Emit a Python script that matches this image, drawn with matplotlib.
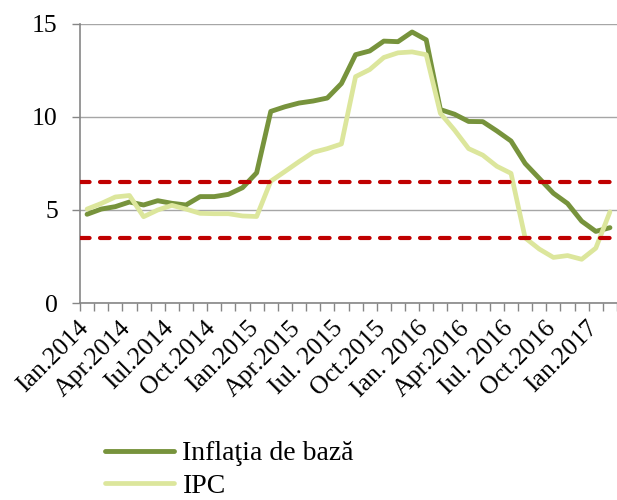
import matplotlib
matplotlib.use("Agg")
import matplotlib.pyplot as plt
import matplotlib.transforms as mtransforms
import numpy as np

plt.rcParams['font.family'] = ['Liberation Serif', 'DejaVu Serif']

# Monthly data, Jan 2014 - Feb 2017
months = ['2014-01', '2014-02', '2014-03', '2014-04', '2014-05', '2014-06', '2014-07', '2014-08',
          '2014-09', '2014-10', '2014-11', '2014-12', '2015-01', '2015-02', '2015-03', '2015-04',
          '2015-05', '2015-06', '2015-07', '2015-08', '2015-09', '2015-10', '2015-11', '2015-12',
          '2016-01', '2016-02', '2016-03', '2016-04', '2016-05', '2016-06', '2016-07', '2016-08',
          '2016-09', '2016-10', '2016-11', '2016-12', '2017-01', '2017-02']

inflatia_de_baza = [4.77, 5.05, 5.18, 5.43, 5.27, 5.5, 5.36, 5.27, 5.72, 5.72, 5.84, 6.2, 7.0,
                    10.3, 10.55, 10.75, 10.86, 11.02, 11.8, 13.35, 13.55, 14.08, 14.05, 14.57,
                    14.15, 10.4, 10.15, 9.76, 9.75, 9.25, 8.71, 7.5, 6.7, 5.9, 5.35, 4.4, 3.85, 4.05]

ipc = [5.05, 5.35, 5.7, 5.78, 4.64, 5.0, 5.25, 5.05, 4.82, 4.8, 4.8, 4.68, 4.65, 6.55, 7.07,
       7.6, 8.1, 8.3, 8.55, 12.17, 12.55, 13.2, 13.45, 13.5, 13.35, 10.2, 9.3, 8.3, 7.95, 7.35,
       6.97, 3.5, 2.9, 2.45, 2.55, 2.35, 2.95, 4.9]

target_upper = 6.5
target_lower = 3.5

tick_labels = ['Ian.2014', 'Apr.2014', 'Iul.2014', 'Oct.2014', 'Ian.2015', 'Apr.2015',
               'Iul. 2015', 'Oct.2015', 'Ian. 2016', 'Apr.2016', 'Iul. 2016', 'Oct.2016', 'Ian.2017']

series_names = ['Inflaţia de bază', 'IPC']

W, H = 617, 500
fig = plt.figure(figsize=(W / 100, H / 100), dpi=100)
ax = fig.add_axes([80 / W, 197 / H, (W - 80) / W, 279 / H])

x = np.arange(len(months))
green = '#77933C'
light = '#DCE69C'
red = '#C00000'

ax.plot(x, inflatia_de_baza, color=green, lw=3.5, solid_joinstyle='round',
        solid_capstyle='round', label=series_names[0], zorder=3)
ax.plot(x, ipc, color=light, lw=3.4, solid_joinstyle='round',
        solid_capstyle='round', label=series_names[1], zorder=3)

for lvl in (target_upper, target_lower):
    ax.axhline(lvl, color=red, lw=3.0, dashes=(2.3, 2.5), dash_capstyle='round', zorder=4)

cat_w = 537 / 14.37
ax.set_xlim(-0.5, -0.5 + cat_w)
ax.set_ylim(0, 15)
ax.set_yticks([0, 5, 10, 15])
ax.yaxis.grid(True, color='#A6A6A6', lw=1.0)
ax.set_axisbelow(True)

ax.set_xticks(np.arange(0, len(months), 3))
ax.set_xticklabels(tick_labels, rotation=45, ha='right', va='top')
ax.set_xticks(np.arange(-0.5, len(months), 1), minor=True)
ax.tick_params(axis='x', which='major', length=0, pad=10, labelsize=18.5)
ax.tick_params(axis='x', which='minor', length=6, color='#868686', width=1)
ax.tick_params(axis='y', length=6, color='#868686', width=1, pad=10, labelsize=18.5)

shift = mtransforms.ScaledTranslation(6 / 100, 0, fig.dpi_scale_trans)
for lbl in ax.get_xticklabels():
    lbl.set_transform(lbl.get_transform() + shift)

for s in ['top', 'right']:
    ax.spines[s].set_visible(False)
for s in ['left', 'bottom']:
    ax.spines[s].set_color('#868686')
    ax.spines[s].set_linewidth(1.2)

handles, labels = ax.get_legend_handles_labels()
fig.legend(handles, labels, loc='upper left', bbox_to_anchor=(105 / W, 1 - 441 / H),
           frameon=False, fontsize=20, handlelength=2.5, handletextpad=0.29,
           labelspacing=0.25, borderpad=0, borderaxespad=0)

fig.savefig('out.png', dpi=100)
